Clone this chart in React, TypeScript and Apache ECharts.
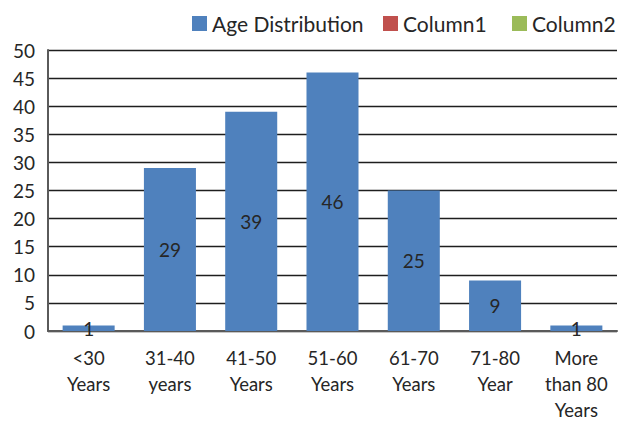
import React, { useEffect, useRef } from "react";
import * as echarts from "echarts";

const categories = [
  "<30\nYears",
  "31-40\nyears",
  "41-50\nYears",
  "51-60\nYears",
  "61-70\nYears",
  "71-80\nYear",
  "More\nthan 80\nYears",
];
const ageDistribution = [1, 29, 39, 46, 25, 9, 1];
const column1: (number | null)[] = [null, null, null, null, null, null, null];
const column2: (number | null)[] = [null, null, null, null, null, null, null];

const FONT = "Lato, 'Open Sans', sans-serif";
const TEXT = "#262626";

export default function App() {
  const ref = useRef<HTMLDivElement>(null);

  useEffect(() => {
    if (!ref.current) return;
    const chart = echarts.init(ref.current, null, { renderer: "svg" });

    const legendBase = {
      top: 13,
      padding: 0,
      itemWidth: 15,
      itemHeight: 15,
      icon: "rect",
      textStyle: { fontFamily: FONT, fontSize: 21, color: TEXT },
      selectedMode: false as const,
    };

    chart.setOption({
      animation: false,
      textStyle: { fontFamily: FONT },
      legend: [
        { ...legendBase, left: 192, data: ["Age Distribution"] },
        { ...legendBase, left: 383, data: ["Column1"] },
        { ...legendBase, left: 512, data: ["Column2"] },
      ],
      grid: {
        left: 48,
        right: 3,
        top: 50,
        bottom: 90,
        containLabel: false,
        outerBoundsMode: "none",
      },
      xAxis: {
        type: "category",
        data: categories,
        axisLine: { show: true, lineStyle: { color: "#5a5a5a", width: 2 } },
        axisTick: { show: false },
        axisLabel: {
          interval: 0,
          margin: 14,
          fontFamily: FONT,
          fontSize: 18.5,
          lineHeight: 26,
          color: TEXT,
        },
      },
      yAxis: {
        type: "value",
        min: 0,
        max: 50,
        interval: 5,
        axisLine: { show: true, lineStyle: { color: "#5a5a5a", width: 2 } },
        axisTick: { show: false },
        axisLabel: { margin: 13, fontFamily: FONT, fontSize: 19, color: TEXT },
        splitLine: { show: true, lineStyle: { color: "#1e1e1e", width: 1.4 } },
      },
      series: [
        {
          name: "Age Distribution",
          type: "bar",
          stack: "all",
          data: ageDistribution,
          barCategoryGap: "36%",
          itemStyle: { color: "#4F81BD" },
          label: {
            show: true,
            position: "inside",
            fontFamily: FONT,
            fontSize: 19,
            color: TEXT,
          },
        },
        {
          name: "Column1",
          type: "bar",
          stack: "all",
          data: column1,
          itemStyle: { color: "#C0504D" },
        },
        {
          name: "Column2",
          type: "bar",
          stack: "all",
          data: column2,
          itemStyle: { color: "#9BBB59" },
        },
      ],
    });

    return () => chart.dispose();
  }, []);

  return (
    <div
      ref={ref}
      style={{ position: "fixed", left: 0, top: 0, width: 620, height: 421, background: "#fff" }}
    />
  );
}
